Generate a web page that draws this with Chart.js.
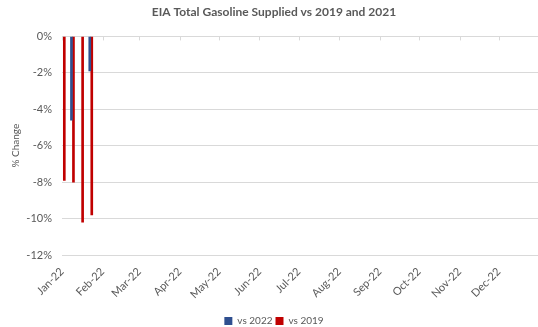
<!DOCTYPE html>
<html>
<head>
<meta charset="utf-8">
<script src="https://cdn.jsdelivr.net/npm/chart.js@4.4.0/dist/chart.umd.min.js"></script>
<style>
  html, body { margin: 0; padding: 0; background: #fff; }
  #wrap { width: 538px; height: 327px; }
</style>
</head>
<body>
<div id="wrap"><canvas id="myChart" width="538" height="327"></canvas></div>
<script>
// weekly readings, % change
const weeks = ['2022-01-02', '2022-01-09', '2022-01-16', '2022-01-23'];
const vs2022 = [null, -4.6, null, -1.9];
const vs2019 = [-7.9, -8.0, -10.2, -9.8];
const monthLabels = ['Jan-22', 'Feb-22', 'Mar-22', 'Apr-22', 'May-22', 'Jun-22',
    'Jul-22', 'Aug-22', 'Sep-22', 'Oct-22', 'Nov-22', 'Dec-22'];
const monthStarts = ['2022-01-01', '2022-02-01', '2022-03-01', '2022-04-01', '2022-05-01', '2022-06-01',
    '2022-07-01', '2022-08-01', '2022-09-01', '2022-10-01', '2022-11-01', '2022-12-01'];

const dayMs = 86400000;
const base = Date.UTC(2022, 0, 1);
function dayOf(s) {
    const p = s.split('-');
    return (Date.UTC(+p[0], +p[1] - 1, +p[2]) - base) / dayMs;
}
const monthDays = monthStarts.map(dayOf);
const grey = '#595959';
const font = "Lato, 'Liberation Sans', sans-serif";

// small tick marks hanging from the 0% line at each month start
const topTicks = {
    id: 'topTicks',
    afterDatasetsDraw(chart) {
        const c = chart.ctx, x = chart.scales.x, top = chart.chartArea.top;
        c.save();
        c.strokeStyle = '#d9d9d9';
        c.lineWidth = 1;
        monthDays.forEach(function (d) {
            const px = Math.round(x.getPixelForValue(d)) + 0.5;
            c.beginPath();
            c.moveTo(px, top);
            c.lineTo(px, top + 4);
            c.stroke();
        });
        c.restore();
    }
};

const ctx = document.getElementById('myChart').getContext('2d');
new Chart(ctx, {
    type: 'bar',
    data: {
        datasets: [{
            label: 'vs 2022',
            data: weeks.map((w, i) => ({ x: dayOf(w), y: vs2022[i] })),
            backgroundColor: '#2F4F8F',
            barThickness: 2
        }, {
            label: 'vs 2019',
            data: weeks.map((w, i) => ({ x: dayOf(w), y: vs2019[i] })),
            backgroundColor: '#C00000',
            barThickness: 2
        }]
    },
    options: {
        responsive: false,
        animation: false,
        layout: { padding: { left: 10, right: 0, top: 0, bottom: -9 } },
        plugins: {
            title: {
                display: true,
                text: 'EIA Total Gasoline Supplied vs 2019 and 2021',
                color: grey,
                font: { family: font, size: 12, weight: 'bold' },
                padding: { top: 5, bottom: 17 }
            },
            legend: {
                position: 'bottom',
                labels: {
                    color: grey,
                    boxWidth: 8,
                    boxHeight: 8,
                    padding: 3,
                    font: { family: font, size: 10 }
                }
            },
            tooltip: { enabled: false }
        },
        scales: {
            x: {
                type: 'linear',
                offset: false,
                min: 0,
                max: 364,
                afterBuildTicks: function (axis) {
                    axis.ticks = monthDays.map(v => ({ value: v }));
                },
                afterFit: function (axis) { axis.height = 58; },
                ticks: {
                    autoSkip: false,
                    maxRotation: 45,
                    minRotation: 45,
                    color: grey,
                    padding: 2,
                    font: { family: font, size: 11 },
                    callback: function (v) {
                        const i = monthDays.indexOf(v);
                        return i >= 0 ? monthLabels[i] : '';
                    }
                },
                grid: { display: false },
                border: { display: false }
            },
            y: {
                min: -12,
                max: 0,
                afterFit: function (axis) { axis.width = 52; },
                ticks: {
                    stepSize: 2,
                    color: grey,
                    padding: 10,
                    font: { family: font, size: 11 },
                    callback: v => v + '%'
                },
                grid: { color: '#d9d9d9', drawTicks: false },
                border: { display: false },
                title: {
                    display: true,
                    text: '% Change',
                    color: grey,
                    padding: 0,
                    font: { family: font, size: 10 }
                }
            }
        }
    },
    plugins: [topTicks]
});
</script>
</body>
</html>
